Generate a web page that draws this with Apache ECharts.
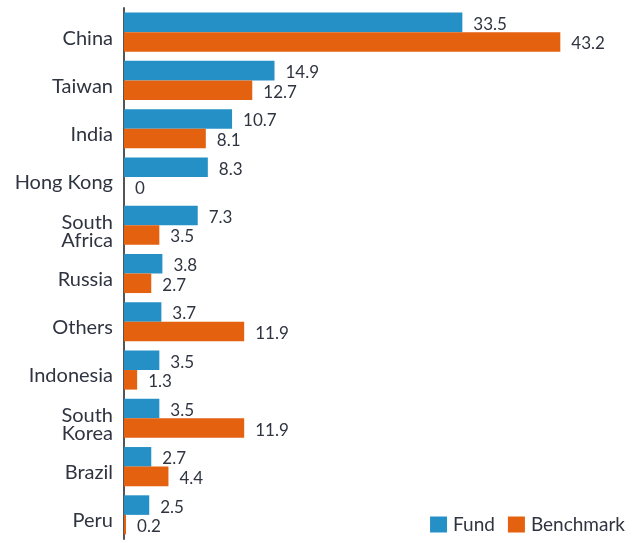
<!DOCTYPE html>
<html>
<head>
<meta charset="utf-8">
<script src="https://cdn.jsdelivr.net/npm/echarts@6/dist/echarts.min.js"></script>
<style>
html,body{margin:0;padding:0;background:#fff;}
#chart{width:640px;height:541px;}
</style>
</head>
<body>
<div id="chart"></div>
<script>
var categories = ["China", "Taiwan", "India", "Hong Kong", "South\nAfrica", "Russia", "Others", "Indonesia", "South\nKorea", "Brazil", "Peru"];
var fundValues = [33.5, 14.9, 10.7, 8.3, 7.3, 3.8, 3.7, 3.5, 3.5, 2.7, 2.5];
var benchmarkValues = [43.2, 12.7, 8.1, 0, 3.5, 2.7, 11.9, 1.3, 11.9, 4.4, 0.2];

var FONT = "Lato, 'Noto Sans', sans-serif";
var TEXT = "#2f3440";
var chart = echarts.init(document.getElementById('chart'));
chart.setOption({
  animation: false,
  textStyle: {fontFamily: FONT},
  grid: {left: 124, right: 11, top: 8, bottom: 2, containLabel: false},
  legend: {
    data: ["Fund", "Benchmark"],
    right: 10, bottom: 2,
    itemWidth: 17, itemHeight: 16, itemGap: 13,
    icon: 'rect',
    textStyle: {fontSize: 19, color: TEXT, fontFamily: FONT, padding: [0, 0, 0, 1]}
  },
  xAxis: {
    type: 'value', min: 0, max: 50, show: false
  },
  yAxis: {
    type: 'category', data: categories, inverse: true,
    axisLine: {show: true, lineStyle: {color: '#555', width: 2}},
    axisTick: {show: false},
    axisLabel: {
      interval: 0, margin: 11, align: 'right',
      formatter: function (v) {
        return '{sp| }\n' + v.split('\n').map(function (s) { return '{a|' + s + '}'; }).join('\n');
      },
      rich: {
        sp: {fontSize: 1, lineHeight: 12, align: 'right'},
        a: {fontSize: 20, lineHeight: 18, color: TEXT, fontFamily: FONT, align: 'right'}
      }
    }
  },
  series: [
    {
      name: "Fund", type: 'bar', data: fundValues,
      barGap: '0%', barCategoryGap: '19%',
      itemStyle: {color: '#2490c6'},
      label: {show: true, position: 'right', distance: 11, fontSize: 17, color: TEXT, fontFamily: FONT, offset: [0, 2]}
    },
    {
      name: "Benchmark", type: 'bar', data: benchmarkValues,
      barGap: '0%', barCategoryGap: '19%',
      itemStyle: {color: '#e4610f'},
      label: {show: true, position: 'right', distance: 11, fontSize: 17, color: TEXT, fontFamily: FONT, offset: [0, 2]}
    }
  ]
});
</script>
</body>
</html>
